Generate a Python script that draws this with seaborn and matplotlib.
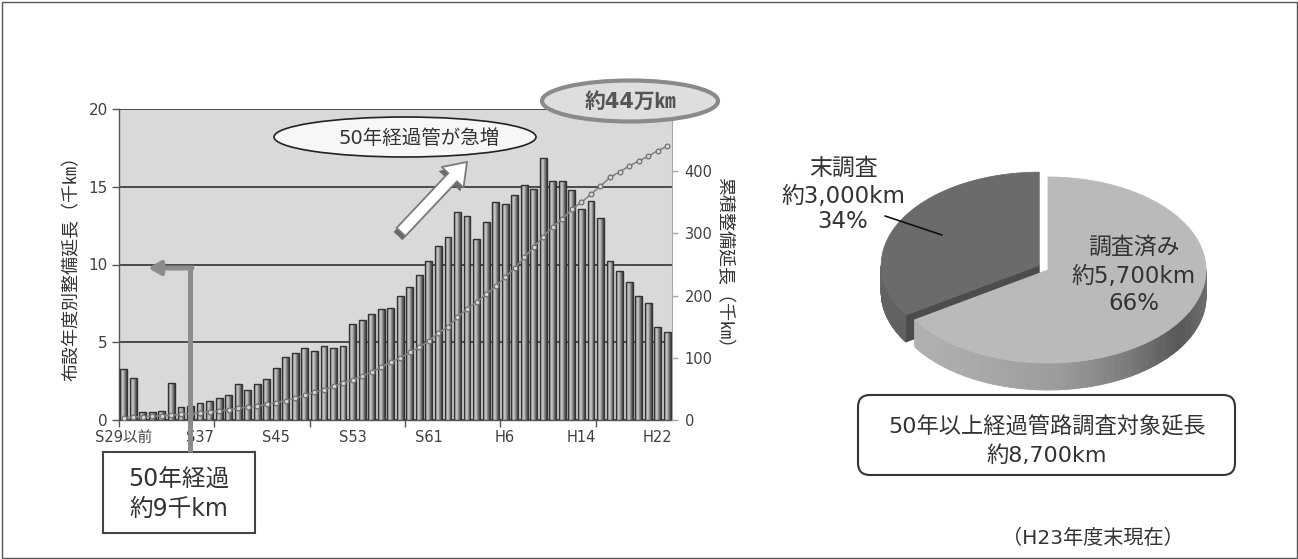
import numpy as np
import pandas as pd
import matplotlib
matplotlib.use("Agg")
import matplotlib.pyplot as plt
import seaborn as sns
from matplotlib.patches import Ellipse, Rectangle, FancyBboxPatch, FancyArrow, Polygon
from matplotlib.collections import PolyCollection
from matplotlib.colors import LinearSegmentedColormap

# ---------------------------------------------------------------- data
# fiscal years: S29 (and earlier) through H23
years = ["S29以前"] + [f"S{n}" for n in range(30, 64)] + [f"H{n}" for n in range(1, 24)]

# length laid per fiscal year (thousand km)
annual_length = [
    3.25, 2.72, 0.5, 0.5, 0.6, 2.4, 0.85, 0.9, 1.1, 1.25,
    1.4, 1.6, 2.3, 1.95, 2.3, 2.65, 3.35, 4.05, 4.3, 4.65,
    4.45, 4.75, 4.65, 4.75, 6.2, 6.45, 6.8, 7.15, 7.2, 7.95,
    8.55, 9.3, 10.2, 11.2, 11.75, 13.4, 13.15, 11.65, 12.75, 14.0,
    13.9, 14.45, 15.1, 14.85, 16.85, 15.35, 15.35, 14.8, 13.6, 14.1,
    13.0, 10.2, 9.55, 8.85, 8.0, 7.5, 6.0, 5.65,
]

# cumulative length in service (thousand km)
cumulative_length = [
    3, 5, 5.5, 6, 6.5, 8, 9, 10, 11.5, 13,
    14.5, 16.5, 19, 21, 22.5, 25, 28, 31, 35, 39.5,
    44.5, 49, 54.5, 60, 65, 71, 77, 85, 93, 100,
    109, 117, 127.5, 140, 150, 165, 178, 190, 202, 215,
    230, 244, 261.5, 278, 295, 311, 323, 339, 350, 363,
    376, 390, 399, 408, 416.5, 424, 433, 440,
]

label_every = 8      # one year label every 8 fiscal years
tick_every = 10      # tick marks every 10 fiscal years

# survey status of pipes older than 50 years
survey_labels = ["調査済み", "末調査"]
survey_km = [5700, 3000]
survey_share = [66, 34]
survey_total_km = 8700

# ---------------------------------------------------------------- style
sns.set_style("white")
plt.rcParams["font.family"] = ["DejaVu Sans", "Noto Sans CJK JP"]

W, H = 1298, 559
fig = plt.figure(figsize=(W / 100, H / 100), dpi=100)
fig.patch.set_facecolor("white")
TXT = "#333333"
TICK = "#404040"

# ---------------------------------------------------------------- bar chart
ax = fig.add_axes([119 / W, 1 - 420 / H, 553 / W, 311 / H])
ax.set_facecolor("#d9d9d9")

df = pd.DataFrame({
    "pos": np.arange(len(years)),
    "year": years,
    "annual": annual_length,
    "cumulative": cumulative_length,
})

sns.barplot(data=df, x="pos", y="annual", native_scale=True, width=0.72,
            color="#b0b0b0", edgecolor="#333333", linewidth=1.0,
            errorbar=None, ax=ax, zorder=3)

# cylinder-like shading inside every bar
bar_cmap = LinearSegmentedColormap.from_list(
    "bar", [(0, "#484848"), (0.22, "#bdbdbd"), (0.45, "#c6c6c6"),
            (0.7, "#808080"), (1, "#424242")])
grad = np.linspace(0, 1, 32).reshape(1, -1)
for p in list(ax.patches):
    x0, w, h = p.get_x(), p.get_width(), p.get_height()
    im = ax.imshow(grad, extent=[x0, x0 + w, 0, h], aspect="auto",
                   cmap=bar_cmap, interpolation="bilinear", zorder=3.1)
    im.set_clip_path(p)
    p.set_facecolor("none")
    p.set_zorder(3.2)

ax.set_aspect("auto")
ax.set_ylim(0, 20)
ax.set_yticks([0, 5, 10, 15, 20])
ax.grid(axis="y", color="#4a4a4a", lw=1.4)
ax.grid(axis="x", visible=False)
ax.set_axisbelow(True)

label_pos = np.arange(0, len(years), label_every)
ax.set_xticks(label_pos)
ax.set_xticklabels([years[i] for i in label_pos])
ax.set_xticks(np.arange(-0.5, len(years) - 1, tick_every), minor=True)
ax.tick_params(axis="x", which="major", bottom=False, length=0, pad=7,
               labelsize=10.5, labelcolor=TICK)
ax.tick_params(axis="x", which="minor", bottom=True, length=5, width=1,
               color="#555555", direction="out")
ax.tick_params(axis="y", left=True, length=5, width=1, color="#555555",
               pad=3, labelsize=11, labelcolor=TICK)
for s in ["top", "right"]:
    ax.spines[s].set_visible(False)
for s in ["left", "bottom"]:
    ax.spines[s].set_color("#555555")
    ax.spines[s].set_linewidth(1)
ax.set_xlabel("")
ax.set_ylabel("")

# cumulative length on the secondary axis
ax2 = ax.twinx()
sns.lineplot(data=df, x="pos", y="cumulative", ax=ax2, color="#858585",
             lw=1.2, marker="o", markersize=3.4, markerfacecolor="#d6d6d6",
             markeredgecolor="#707070", markeredgewidth=0.9, zorder=5)
ax2.set_ylim(0, 500)
ax2.set_yticks(range(0, 401, 100))
for s in ["top", "left", "bottom"]:
    ax2.spines[s].set_visible(False)
ax2.spines["right"].set_color("#a8a8a8")
ax2.tick_params(axis="y", right=True, length=4, width=1, color="#a8a8a8",
                pad=5, labelsize=10.5, labelcolor=TICK)
ax2.set_xlabel("")
ax2.set_ylabel("")
ax.set_xlim(-0.5, len(years) - 0.5)

# ---------------------------------------------------------------- overlay (pixel coordinates)
ov = fig.add_axes([0, 0, 1, 1], zorder=10)
ov.set_xlim(0, W)
ov.set_ylim(H, 0)
ov.axis("off")

# outer frame
ov.add_patch(Rectangle((1.5, 1.5), W - 3, H - 3, fill=False, ec="#555555", lw=1))

# axis titles
ov.text(72, 264, "布設年度別整備延長（千㎞）", rotation=90, ha="center",
        va="center", fontsize=13, color=TXT)
ov.text(724, 267, "累積整備延長（千㎞）", rotation=270, ha="center",
        va="center", fontsize=13, color=TXT)

# callout: total length
ov.add_patch(Ellipse((630, 101), 176, 41, fc="#dedede", ec="#8a8a8a", lw=3))
ov.text(630, 102, f"約{round(cumulative_length[-1] / 10)}万㎞", ha="center",
        va="center", fontsize=15, fontweight="bold", color="#555555")

# callout: rapid increase
ov.add_patch(Ellipse((405, 137), 262, 40, fc="#f7f7f7", ec="#222222", lw=1.2))
ov.text(419, 138, "50年経過管が急増", ha="center", va="center",
        fontsize=14, color=TXT)
ov.add_patch(FancyArrow(398, 236, 66, -70, width=12, head_width=30,
                        head_length=21, length_includes_head=True,
                        fc="#6a6a6a", ec="none"))
ov.add_patch(FancyArrow(401, 232, 66, -70, width=12, head_width=30,
                        head_length=21, length_includes_head=True,
                        fc="white", ec="#7a7a7a", lw=1.3))

# bracket arrow: pipes older than 50 years
ov.plot([190, 190], [452, 268], color="#8c8c8c", lw=3.6,
        solid_capstyle="butt")
ov.annotate("", xy=(148, 268), xytext=(192, 268),
            arrowprops=dict(arrowstyle="-|>,head_length=0.7,head_width=0.4",
                            color="#8c8c8c", lw=3.6, shrinkA=0, shrinkB=0))
ov.add_patch(Rectangle((103, 452), 152, 81, fc="white", ec="#444444", lw=1.5))
ov.text(179, 480, "50年経過", ha="center", va="center", fontsize=17, color=TXT)
ov.text(179, 509, "約9千km", ha="center", va="center", fontsize=17, color=TXT)

# ---------------------------------------------------------------- 3-D pie
PA, PB, DEPTH = 158, 93, 27
cx, cy = 1048, 270
share_total = sum(survey_share)
split = 90 - 360 * survey_share[0] / share_total + 360   # end of the surveyed slice
done_span = (split, 450)     # surveyed slice (clockwise from 12 o'clock)
todo_span = (90, split)      # unsurveyed slice

def arc(x0, y0, t0, t1, n=160):
    t = np.radians(np.linspace(t0, t1, n))
    return np.column_stack([x0 + PA * np.cos(t), y0 - PB * np.sin(t)])

def side_wall(x0, y0, t0, t1, cmap):
    pts = arc(x0, y0, t0, t1, 120)
    quads, cols = [], []
    for i in range(len(pts) - 1):
        a, b = pts[i], pts[i + 1]
        quads.append([a, b, b + [0, DEPTH], a + [0, DEPTH]])
        f = ((a[0] + b[0]) / 2 - (x0 - PA)) / (2 * PA)
        cols.append(cmap(f))
    ov.add_collection(PolyCollection(quads, facecolors=cols, edgecolors=cols,
                                     lw=0.6))

side_light = LinearSegmentedColormap.from_list(
    "side_light", [(0, "#b4b4b4"), (0.3, "#a8a8a8"), (0.55, "#9a9a9a"),
                   (0.75, "#7c7c7c"), (0.92, "#575757"), (1, "#6c6c6c")])
side_dark = LinearSegmentedColormap.from_list(
    "side_dark", [(0, "#626262"), (1, "#555555")])

# unsurveyed slice, pulled out toward its middle angle
mid = np.radians((todo_span[0] + todo_span[1]) / 2)
dx, dy = 10 * np.cos(mid), -10 * np.sin(mid)
dcx, dcy = cx + dx, cy + dy
edge = arc(dcx, dcy, todo_span[1], todo_span[1], 1)[0]
apex = np.array([dcx, dcy])
ov.add_patch(Polygon([apex, edge, edge + [0, DEPTH], apex + [0, DEPTH]],
                     closed=True, fc="#4c4c4c", ec="#4c4c4c", lw=0.6))
side_wall(dcx, dcy, 180, todo_span[1], side_dark)
ov.add_patch(Polygon(np.vstack([[apex], arc(dcx, dcy, *todo_span)]),
                     closed=True, fc="#6b6b6b", ec="#6b6b6b", lw=0.6))

# surveyed slice
side_wall(cx, cy, done_span[0], 360, side_light)
ov.add_patch(Polygon(np.vstack([[[cx, cy]], arc(cx, cy, *done_span)]),
                     closed=True, fc="#bababa", ec="#bababa", lw=0.6))

# slice labels
for y, s in zip([247, 277, 303],
                [survey_labels[0], f"約{survey_km[0]:,}km", f"{survey_share[0]}%"]):
    ov.text(1134, y, s, ha="center", va="center", fontsize=16.5, color=TXT)
for y, s in zip([168, 196, 222],
                [survey_labels[1], f"約{survey_km[1]:,}km", f"{survey_share[1]}%"]):
    ov.text(843, y, s, ha="center", va="center", fontsize=16.5, color=TXT)
ov.plot([885, 942], [216, 235], color="#111111", lw=1.2)

# total box and note
ov.add_patch(FancyBboxPatch((858, 395), 377, 80,
                            boxstyle="round,pad=0,rounding_size=12",
                            fc="white", ec="#333333", lw=1.5))
ov.text(1047, 427, "50年以上経過管路調査対象延長", ha="center", va="center",
        fontsize=16, color=TXT)
ov.text(1047, 456, f"約{survey_total_km:,}km", ha="center", va="center",
        fontsize=16, color=TXT)
ov.text(1093, 538, "（H23年度末現在）", ha="center", va="center",
        fontsize=14.5, color=TXT)

fig.savefig("out.png", dpi=100)
